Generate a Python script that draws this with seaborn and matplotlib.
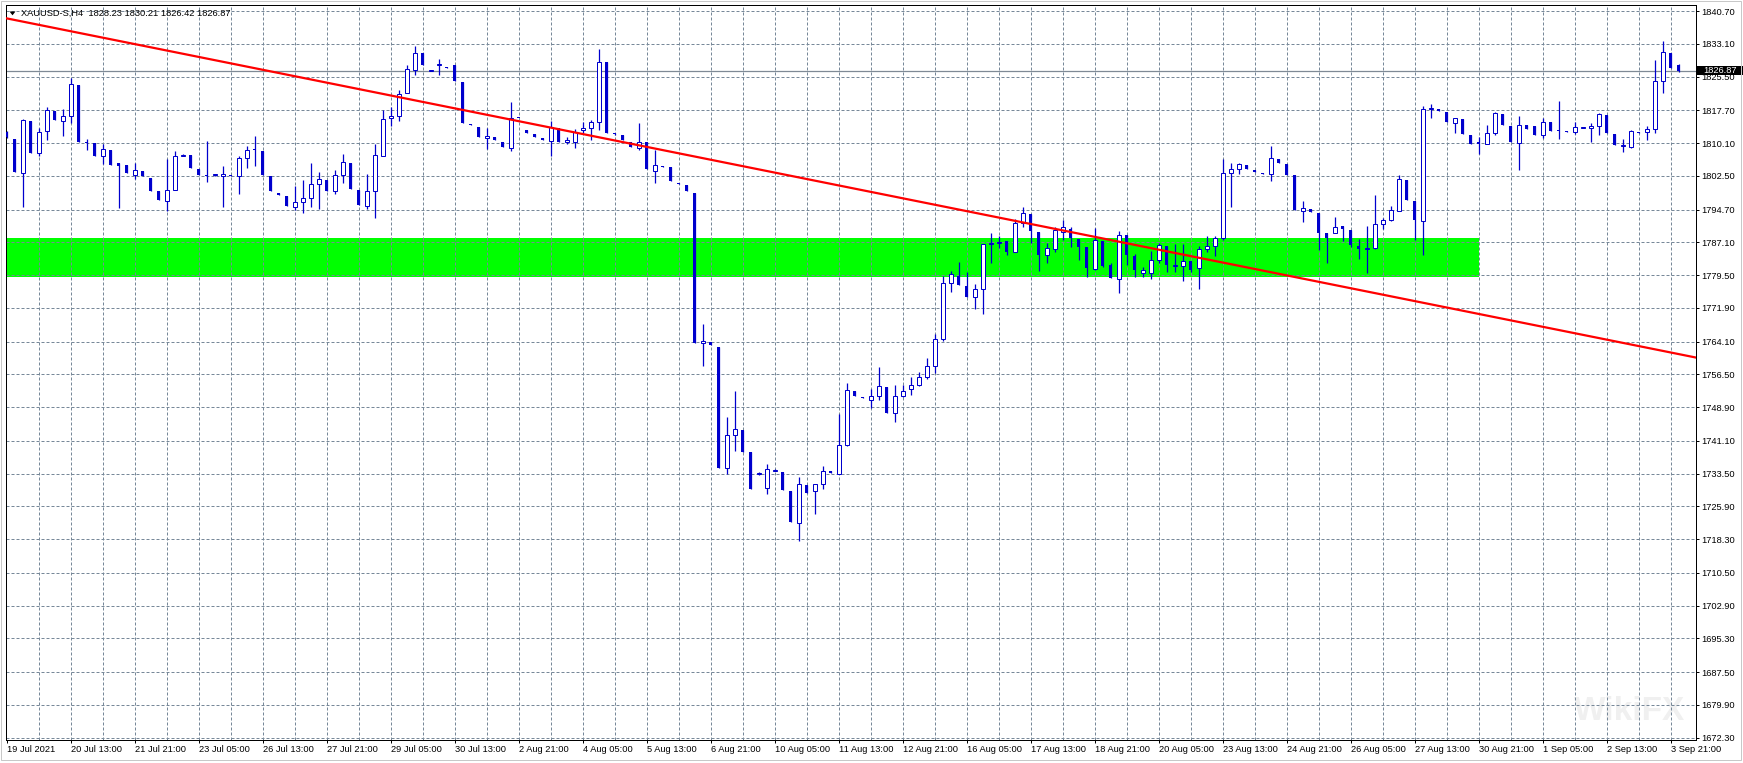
import numpy as np
import pandas as pd
import matplotlib.pyplot as plt
import matplotlib.transforms as mtransforms
from matplotlib.patches import Rectangle, Polygon
import seaborn as sns

# XAUUSD H4 candles, one entry per bar
opens = [1812.6, 1811.1, 1803.1, 1815.2, 1807.7, 1813.0, 1817.5, 1815.3, 1816.3, 1823.6,
         1810.4, 1810.1, 1807.1, 1808.5, 1805.4, 1805.1, 1802.7, 1803.7, 1802.1, 1799.0,
         1796.7, 1799.2, 1807.2, 1807.4, 1804.1, 1802.7, 1802.6, 1802.5, 1802.7, 1802.4,
         1806.6, 1808.6, 1808.3, 1802.5, 1798.6, 1797.9, 1795.3, 1796.5, 1797.4, 1800.6,
         1801.6, 1799.1, 1802.6, 1805.5, 1799.2, 1795.5, 1799.0, 1807.1, 1815.8, 1816.3,
         1821.6, 1827.0, 1830.9, 1826.8, 1828.2, 1827.6, 1828.1, 1824.2, 1814.5, 1813.8,
         1811.2, 1811.5, 1810.3, 1808.9, 1816.0, 1813.1, 1812.2, 1811.3, 1810.5, 1813.5,
         1810.3, 1810.3, 1813.1, 1813.7, 1814.9, 1828.8, 1812.3, 1812.0, 1810.4, 1808.9,
         1810.3, 1803.7, 1804.8, 1804.5, 1800.9, 1800.4, 1798.6, 1763.7, 1764.0, 1762.8,
         1734.7, 1742.4, 1743.6, 1738.5, 1733.4, 1730.1, 1734.2, 1733.9, 1729.5, 1722.0,
         1730.9, 1729.4, 1731.1, 1734.1, 1733.3, 1740.1, 1752.7, 1751.2, 1750.5, 1751.4,
         1753.5, 1747.5, 1751.4, 1753.1, 1754.0, 1755.8, 1758.4, 1764.8, 1777.6, 1779.3,
         1777.0, 1774.4, 1776.2, 1786.8, 1787.0, 1787.4, 1784.8, 1791.5, 1793.7, 1789.5,
         1784.1, 1785.6, 1789.6, 1790.3, 1787.9, 1786.0, 1780.9, 1787.3, 1781.8, 1778.7,
         1788.8, 1784.0, 1780.1, 1780.1, 1782.9, 1786.3, 1781.5, 1781.5, 1782.7, 1781.1,
         1785.5, 1786.2, 1788.0, 1803.1, 1804.2, 1805.0, 1803.8, 1803.2, 1802.9, 1806.3,
         1805.2, 1802.7, 1794.4, 1794.8, 1793.8, 1789.2, 1789.2, 1790.9, 1789.9, 1786.3,
         1785.5, 1785.7, 1791.3, 1792.3, 1794.4, 1801.5, 1796.7, 1792.1, 1817.9, 1818.0,
         1817.3, 1814.8, 1815.7, 1812.0, 1810.1, 1809.8, 1812.5, 1816.8, 1814.1, 1810.2,
         1814.2, 1814.1, 1811.9, 1815.0, 1813.0, 1812.9, 1812.6, 1813.6, 1813.5, 1814.1,
         1816.6, 1812.1, 1809.5, 1809.3, 1812.6, 1812.6, 1813.3, 1824.6, 1831.0, 1828.23]
highs = [1812.8, 1811.1, 1815.7, 1815.2, 1813.5, 1818.5, 1817.5, 1818.1, 1825.1, 1823.6,
         1811.1, 1810.1, 1809.9, 1808.5, 1805.4, 1805.1, 1805.5, 1803.7, 1802.1, 1799.0,
         1806.4, 1808.3, 1807.6, 1807.4, 1804.1, 1810.5, 1802.9, 1804.9, 1802.7, 1807.2,
         1809.5, 1811.8, 1808.3, 1802.5, 1798.6, 1797.9, 1800.1, 1801.6, 1805.5, 1803.4,
         1801.6, 1803.9, 1807.6, 1805.5, 1799.2, 1803.0, 1809.9, 1817.7, 1818.5, 1822.4,
         1828.3, 1832.7, 1830.9, 1827.0, 1829.6, 1827.8, 1828.1, 1824.2, 1814.5, 1813.8,
         1813.5, 1811.5, 1810.3, 1819.6, 1816.0, 1813.1, 1812.2, 1811.3, 1815.2, 1813.5,
         1811.5, 1813.4, 1814.9, 1815.5, 1831.8, 1828.8, 1812.5, 1812.0, 1810.4, 1814.7,
         1810.3, 1808.5, 1804.8, 1804.5, 1800.9, 1800.4, 1798.6, 1768.2, 1764.0, 1762.8,
         1746.7, 1752.7, 1743.6, 1738.5, 1733.8, 1735.7, 1734.5, 1733.9, 1729.5, 1732.7,
         1730.9, 1731.0, 1735.3, 1734.1, 1747.3, 1754.4, 1752.7, 1751.2, 1753.1, 1758.1,
         1753.5, 1754.0, 1754.0, 1755.8, 1757.1, 1760.2, 1765.9, 1779.3, 1780.5, 1782.5,
         1780.2, 1777.5, 1786.7, 1789.3, 1788.6, 1787.4, 1792.4, 1795.4, 1793.7, 1789.5,
         1786.9, 1790.7, 1792.3, 1790.7, 1787.9, 1786.0, 1790.5, 1787.3, 1782.3, 1789.7,
         1788.8, 1784.4, 1781.3, 1785.2, 1786.9, 1786.3, 1786.6, 1786.7, 1782.7, 1786.2,
         1788.6, 1788.6, 1806.3, 1805.4, 1805.6, 1805.0, 1803.8, 1803.2, 1809.4, 1806.3,
         1805.2, 1802.7, 1796.7, 1794.8, 1793.8, 1789.3, 1792.9, 1790.9, 1789.9, 1787.8,
         1790.9, 1798.1, 1792.7, 1795.5, 1802.7, 1801.5, 1796.7, 1818.7, 1819.2, 1818.0,
         1817.3, 1815.8, 1815.7, 1812.0, 1811.4, 1814.2, 1817.3, 1816.8, 1814.1, 1816.4,
         1814.2, 1814.1, 1816.0, 1815.0, 1819.8, 1812.9, 1815.0, 1813.7, 1814.7, 1817.0,
         1816.6, 1812.1, 1811.0, 1813.1, 1812.6, 1814.1, 1829.3, 1833.8, 1831.0, 1828.4]
lows = [1811.2, 1803.4, 1795.2, 1807.8, 1807.0, 1810.7, 1815.5, 1811.8, 1814.7, 1810.3,
        1808.4, 1807.2, 1805.3, 1805.1, 1795.1, 1803.1, 1801.8, 1802.4, 1799.1, 1796.8,
        1794.4, 1799.2, 1807.0, 1804.4, 1802.6, 1801.1, 1802.4, 1795.2, 1802.4, 1798.4,
        1804.4, 1804.7, 1802.8, 1798.9, 1798.0, 1795.5, 1794.7, 1793.9, 1795.2, 1794.8,
        1799.1, 1798.2, 1800.9, 1799.5, 1795.7, 1794.8, 1792.8, 1807.1, 1814.1, 1815.3,
        1821.6, 1825.9, 1828.3, 1826.7, 1825.8, 1827.4, 1824.5, 1814.8, 1814.3, 1811.4,
        1808.7, 1810.7, 1809.1, 1808.2, 1815.8, 1812.5, 1811.6, 1810.7, 1807.1, 1810.4,
        1810.0, 1809.0, 1812.4, 1810.9, 1813.2, 1812.5, 1812.0, 1810.7, 1809.1, 1808.4,
        1804.0, 1800.8, 1804.6, 1801.2, 1800.7, 1799.1, 1763.8, 1758.5, 1763.4, 1734.9,
        1733.3, 1738.8, 1738.6, 1730.0, 1733.2, 1728.7, 1734.1, 1729.8, 1722.2, 1717.9,
        1728.9, 1724.1, 1729.9, 1733.6, 1733.3, 1739.9, 1751.6, 1751.0, 1748.6, 1750.5,
        1747.6, 1745.5, 1751.3, 1751.7, 1753.7, 1755.4, 1756.8, 1764.3, 1775.7, 1777.3,
        1774.5, 1771.7, 1770.6, 1782.4, 1785.7, 1784.2, 1784.8, 1790.7, 1786.9, 1780.5,
        1782.2, 1784.9, 1787.6, 1786.1, 1782.9, 1779.1, 1780.7, 1781.3, 1778.9, 1775.4,
        1781.8, 1779.1, 1779.1, 1778.6, 1782.2, 1780.3, 1780.3, 1778.2, 1780.3, 1776.4,
        1784.9, 1783.9, 1787.6, 1795.4, 1802.9, 1804.2, 1803.5, 1803.0, 1801.4, 1805.6,
        1802.7, 1794.6, 1791.7, 1794.1, 1785.3, 1782.3, 1789.2, 1787.5, 1786.1, 1783.2,
        1779.9, 1785.5, 1790.1, 1792.1, 1794.4, 1796.9, 1787.6, 1784.2, 1815.8, 1817.6,
        1815.1, 1812.4, 1812.2, 1809.9, 1807.6, 1809.8, 1812.0, 1814.3, 1810.4, 1803.9,
        1813.4, 1812.0, 1811.2, 1813.0, 1811.1, 1812.7, 1812.1, 1813.5, 1810.4, 1812.0,
        1812.5, 1809.7, 1808.1, 1808.9, 1812.4, 1810.8, 1812.5, 1821.8, 1827.5, 1826.6]
closes = [1811.4, 1803.4, 1815.4, 1807.8, 1812.6, 1817.7, 1815.5, 1816.3, 1823.9, 1810.3,
          1810.1, 1807.2, 1808.7, 1805.1, 1804.9, 1803.1, 1803.8, 1802.4, 1799.1, 1796.8,
          1799.2, 1807.1, 1807.4, 1804.4, 1802.6, 1802.5, 1802.7, 1802.9, 1802.4, 1806.6,
          1808.4, 1808.4, 1802.8, 1798.9, 1798.0, 1795.5, 1796.5, 1797.4, 1800.6, 1801.8,
          1799.1, 1802.7, 1805.7, 1799.5, 1795.7, 1799.0, 1807.4, 1815.7, 1816.3, 1821.4,
          1827.2, 1831.0, 1828.3, 1826.9, 1828.4, 1827.5, 1824.5, 1814.8, 1814.3, 1811.4,
          1811.7, 1810.7, 1809.1, 1816.0, 1815.8, 1812.5, 1811.6, 1810.7, 1813.9, 1810.4,
          1810.7, 1812.7, 1813.7, 1814.9, 1828.9, 1812.5, 1812.2, 1810.7, 1809.1, 1810.4,
          1804.0, 1805.0, 1804.6, 1801.2, 1800.7, 1799.1, 1763.8, 1764.2, 1763.4, 1734.9,
          1742.4, 1743.8, 1738.6, 1730.0, 1733.7, 1734.5, 1734.4, 1729.8, 1722.2, 1731.0,
          1728.9, 1731.0, 1734.2, 1733.6, 1740.1, 1752.9, 1751.6, 1751.0, 1751.4, 1753.7,
          1747.6, 1751.4, 1752.7, 1754.0, 1755.8, 1758.4, 1764.8, 1777.6, 1779.7, 1777.3,
          1774.5, 1776.2, 1786.7, 1787.0, 1787.1, 1784.8, 1791.5, 1793.8, 1789.8, 1784.1,
          1785.9, 1790.0, 1790.6, 1788.0, 1786.0, 1781.1, 1787.6, 1781.7, 1778.9, 1788.9,
          1784.1, 1780.8, 1780.8, 1782.9, 1786.4, 1781.8, 1781.8, 1782.7, 1780.8, 1785.5,
          1786.2, 1788.0, 1803.1, 1804.2, 1805.2, 1804.2, 1803.5, 1803.0, 1806.6, 1805.6,
          1802.7, 1794.6, 1795.0, 1794.1, 1789.3, 1788.0, 1790.7, 1790.3, 1786.5, 1785.6,
          1785.9, 1791.3, 1792.3, 1794.7, 1801.7, 1796.9, 1792.3, 1817.9, 1818.0, 1817.6,
          1815.1, 1815.8, 1812.2, 1809.9, 1810.0, 1812.5, 1817.0, 1814.3, 1810.4, 1814.2,
          1813.4, 1812.0, 1815.1, 1813.0, 1812.9, 1812.7, 1813.8, 1813.6, 1814.1, 1816.8,
          1812.5, 1809.7, 1809.7, 1812.9, 1812.4, 1813.3, 1824.6, 1831.1, 1827.5, 1826.87]

price_labels = ["1840.70", "1833.10", "1825.50", "1817.70", "1810.10", "1802.50", "1794.70",
                "1787.10", "1779.50", "1771.90", "1764.10", "1756.50", "1748.90", "1741.10",
                "1733.50", "1725.90", "1718.30", "1710.50", "1702.90", "1695.30", "1687.50",
                "1679.90", "1672.30"]
time_labels = ["19 Jul 2021", "20 Jul 13:00", "21 Jul 21:00", "23 Jul 05:00", "26 Jul 13:00",
               "27 Jul 21:00", "29 Jul 05:00", "30 Jul 13:00", "2 Aug 21:00", "4 Aug 05:00",
               "5 Aug 13:00", "6 Aug 21:00", "10 Aug 05:00", "11 Aug 13:00", "12 Aug 21:00",
               "16 Aug 05:00", "17 Aug 13:00", "18 Aug 21:00", "20 Aug 05:00", "23 Aug 13:00",
               "24 Aug 21:00", "26 Aug 05:00", "27 Aug 13:00", "30 Aug 21:00", "1 Sep 05:00",
               "2 Sep 13:00", "3 Sep 21:00"]
bars_per_label = 8
bars_per_grid = 4

trend_bars = [0, 209]
trend_prices = [1839.0, 1761.2]
zone_low, zone_high = 1779.1, 1788.2
zone_end_bar = 184
last_price = 1826.87
header = "XAUUSD-S,H4  1828.23 1830.21 1826.42 1826.87"

sns.set_style("white")
plt.rcParams['font.family'] = ['Liberation Sans', 'DejaVu Sans']

W, H = 1743, 763
fig = plt.figure(figsize=(W / 100, H / 100), dpi=100)
ax = fig.add_axes([5.5 / W, 1 - 740 / H, (1695.7 - 5.5) / W, (740 - 5) / H])

blue = '#0000CD'
grid_c = '#778899'
fs = 6.7
xmin, xmax = -0.15, 211.12
ymin, ymax = 1671.77, 1842.1

df = pd.DataFrame({'o': opens, 'h': highs, 'l': lows, 'c': closes})
df['x'] = np.arange(len(df))
bull = df[df.c >= df.o]
bear = df[df.c < df.o]

# green zone (background)
ax.fill_between([xmin - 1, zone_end_bar], zone_low, zone_high, color='#00FF00', lw=0, zorder=0.5)

# grid
price_vals = [float(p) for p in price_labels]
for v in price_vals:
    ax.axhline(v, color=grid_c, lw=0.72, ls=(0, (3, 2)), zorder=1)
for i in range(bars_per_grid, int(xmax) + 1, bars_per_grid):
    ax.axvline(i, color=grid_c, lw=0.72, ls=(0, (3, 2)), zorder=1)

# bid line
ax.axhline(last_price, color='#7f8a96', lw=0.9, zorder=1.2)

# candles
ax.vlines(df.x, df.l, df.h, color=blue, lw=0.9, zorder=2)
ax.bar(bear.x, np.maximum(bear.o - bear.c, 0.25), bottom=bear.c, width=0.375,
       color=blue, lw=0, zorder=3)
ax.bar(bull.x, np.maximum(bull.c - bull.o, 0.25), bottom=bull.o, width=0.5,
       facecolor='white', edgecolor=blue, lw=0.72, zorder=3)

# trend line
slope = (trend_prices[1] - trend_prices[0]) / (trend_bars[1] - trend_bars[0])
tx = np.array([xmin - 1, xmax + 1])
line_df = pd.DataFrame({'bar': tx, 'price': trend_prices[0] + slope * (tx - trend_bars[0])})
sns.lineplot(data=line_df, x='bar', y='price', color='#FF0000', lw=1.6, ax=ax, zorder=4)

ax.set_xlim(xmin, xmax)
ax.set_ylim(ymin, ymax)
ax.set_xlabel('')
ax.set_ylabel('')

ax.yaxis.tick_right()
ax.set_yticks(price_vals, price_labels)
ax.set_xticks(np.arange(len(time_labels)) * bars_per_label, time_labels)
for t in ax.get_xticklabels():
    t.set_ha('left')
ax.tick_params(axis='both', direction='out', length=2.2, width=0.72, colors='black', labelsize=fs)
ax.tick_params(axis='y', pad=1.9, left=False, right=True)
ax.tick_params(axis='x', pad=1.5, bottom=True)
for s in ax.spines.values():
    s.set_visible(True)
    s.set_color('black')
    s.set_linewidth(0.72)

# last price box on the axis
blend = mtransforms.blended_transform_factory(ax.transAxes, ax.transData)
bw = 46 / 1690.2
ax.add_patch(Rectangle((1.0006, last_price - 1.1), bw, 2.2, transform=blend,
                       facecolor='black', edgecolor='none', clip_on=False, zorder=10))
ax.text(1.0006 + bw / 2, last_price, f"{last_price:.2f}", transform=blend, ha='center',
        va='center', color='white', fontsize=fs, clip_on=False, zorder=11)

# header
fig.text(20.7 / W, 1 - 13.3 / H, header, ha='left', va='center', fontsize=fs, color='black')
fig.add_artist(Polygon([(9.5 / W, 1 - 11.5 / H), (15.5 / W, 1 - 11.5 / H), (12.5 / W, 1 - 15.3 / H)],
                       closed=True, transform=fig.transFigure, facecolor='black', edgecolor='none'))

# faint watermark, kept inside the plot area
ax.text(1630 / W, 1 - 712 / H, 'WikiFX', transform=fig.transFigure, fontsize=24, color='#f0f0f0',
        ha='center', va='center', fontweight='bold', zorder=0.8)

# window frame
fig.add_artist(Rectangle((0.5 / W, 1 - 760 / H), 1740.2 / W, 759 / H, transform=fig.transFigure,
                         fill=False, edgecolor='#c8c8c8', lw=0.72))

fig.savefig('out.png', dpi=100)
